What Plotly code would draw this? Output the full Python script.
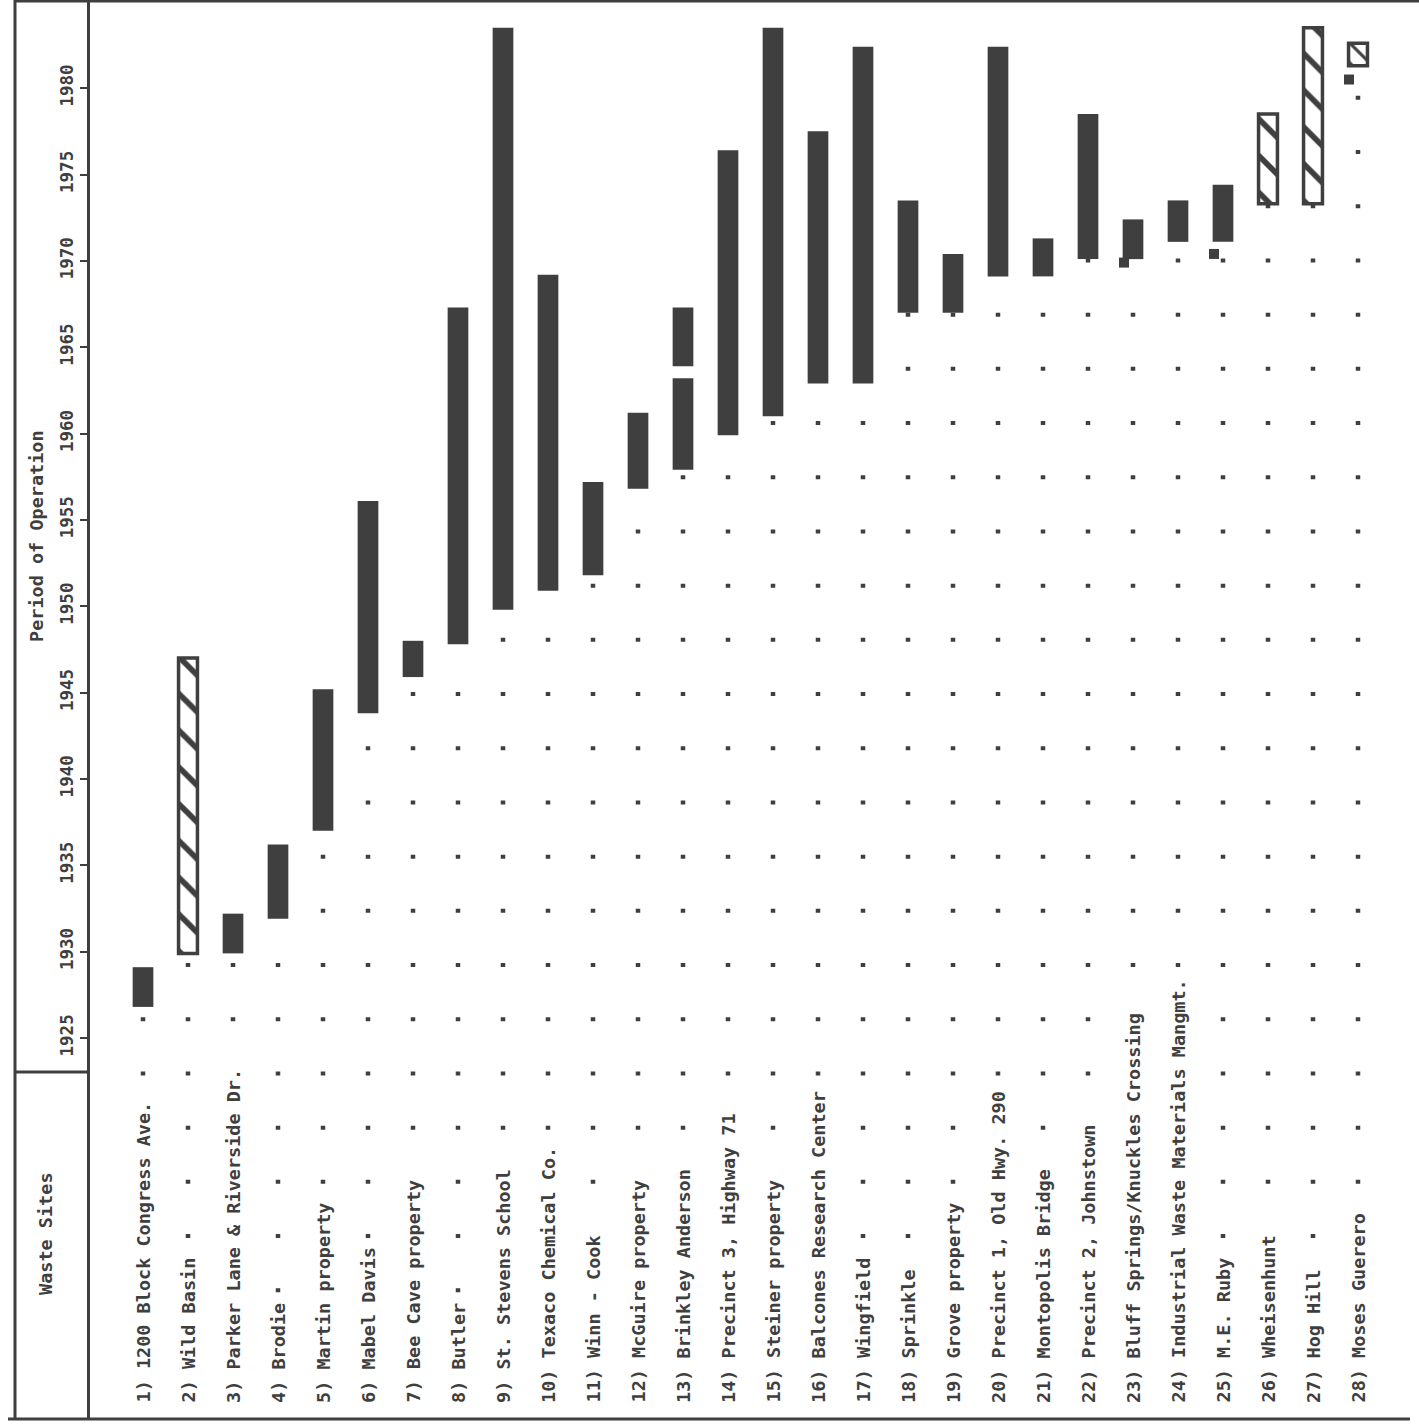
import plotly.graph_objects as go

# waste sites, numbered as on the chart
sites = [
    "1200 Block Congress Ave.", "Wild Basin", "Parker Lane & Riverside Dr.",
    "Brodie", "Martin property", "Mabel Davis", "Bee Cave property", "Butler",
    "St. Stevens School", "Texaco Chemical Co.", "Winn - Cook",
    "McGuire property", "Brinkley Anderson", "Precinct 3, Highway 71",
    "Steiner property", "Balcones Research Center", "Wingfield", "Sprinkle",
    "Grove property", "Precinct 1, Old Hwy. 290", "Montopolis Bridge",
    "Precinct 2, Johnstown", "Bluff Springs/Knuckles Crossing",
    "Industrial Waste Materials Mangmt.", "M.E. Ruby", "Wheisenhunt",
    "Hog Hill", "Moses Guerero",
]

# periods of operation (one entry per bar, site 13 has two)
bar_site = [1, 2, 3, 4, 5, 6, 7, 8, 9, 10, 11, 12, 13, 13, 14, 15, 16, 17,
            18, 19, 20, 21, 22, 23, 24, 25, 26, 27, 28]
bar_start = [1926.8, 1929.9, 1929.9, 1931.9, 1937.0, 1943.8, 1945.9, 1947.8,
             1949.8, 1950.9, 1951.8, 1956.8, 1957.9, 1963.9, 1959.9, 1961.0,
             1962.9, 1962.9, 1967.0, 1967.0, 1969.1, 1969.1, 1970.1, 1970.1,
             1971.1, 1971.1, 1973.3, 1973.3, 1981.3]
bar_end = [1929.1, 1947.0, 1932.2, 1936.2, 1945.2, 1956.1, 1948.0, 1967.3,
           1983.5, 1969.2, 1957.2, 1961.2, 1963.2, 1967.3, 1976.4, 1983.5,
           1977.5, 1982.4, 1973.5, 1970.4, 1982.4, 1971.3, 1978.5, 1972.4,
           1973.5, 1974.4, 1978.5, 1983.5, 1982.6]
bar_hatched = [False, True, False, False, False, False, False, False, False,
               False, False, False, False, False, False, False, False, False,
               False, False, False, False, False, False, False, False, True,
               True, True]

# small single marks beside some bars
mark_site = [23, 25, 28]
mark_year = [1969.9, 1970.4, 1980.5]

year_ticks = [1925, 1930, 1935, 1940, 1945, 1950, 1955, 1960, 1965, 1970,
              1975, 1980]

W, H = 1419, 1425
INK = "#3f3f3f"
MONO = "DejaVu Sans Mono"
LEAD_FROM = 1904.0


def fx(p):
    return p / W


def fy(p):
    return 1 - p / H


fig = go.Figure()

# dotted leaders from the site name up to the first period
for i in range(1, len(sites) + 1):
    firsts = [s for s, k in zip(bar_start, bar_site) if k == i]
    firsts += [y for y, k in zip(mark_year, mark_site) if k == i]
    fig.add_trace(go.Scatter(
        x=[i, i], y=[LEAD_FROM, min(firsts)], mode="lines",
        line=dict(color=INK, width=4.5, dash="4px,50.2px"),
        hoverinfo="skip", showlegend=False))

solid = [j for j, h in enumerate(bar_hatched) if not h]
hatch = [j for j, h in enumerate(bar_hatched) if h]

fig.add_trace(go.Bar(
    x=[bar_site[j] for j in solid],
    base=[bar_start[j] for j in solid],
    y=[bar_end[j] - bar_start[j] for j in solid],
    width=0.46, marker=dict(color=INK, line=dict(width=0)),
    showlegend=False))

# short hatched boxes need a tighter hatch to show any stroke
hatch_size = [26 if bar_end[j] - bar_start[j] > 3 else 14 for j in hatch]

fig.add_trace(go.Bar(
    x=[bar_site[j] for j in hatch],
    base=[bar_start[j] for j in hatch],
    y=[bar_end[j] - bar_start[j] for j in hatch],
    width=0.42,
    marker=dict(color="white", line=dict(color=INK, width=3.5),
                pattern=dict(shape="\\", fgcolor=INK, bgcolor="white",
                             size=hatch_size, solidity=0.22,
                             fillmode="replace")),
    showlegend=False))

fig.add_trace(go.Scatter(
    x=[s - 0.2 for s in mark_site], y=mark_year, mode="markers",
    marker=dict(symbol="square", size=10, color=INK),
    showlegend=False))

# site names, rotated and reading upward
for i, name in enumerate(sites, start=1):
    fig.add_annotation(
        x=i, xref="x", y=fy(1406), yref="paper", yanchor="bottom",
        xanchor="center", textangle=-90, showarrow=False,
        text=f"{i}) {name}", bgcolor="white", borderpad=2,
        font=dict(family=MONO, size=18.5, color=INK, weight="bold"))

fig.add_annotation(
    x=fx(36), xref="paper", y=fy(536), yref="paper", textangle=-90,
    xanchor="center", yanchor="middle", showarrow=False,
    text="Period of Operation",
    font=dict(family=MONO, size=18.5, color=INK, weight="bold"))
fig.add_annotation(
    x=fx(45), xref="paper", y=fy(1234), yref="paper", textangle=-90,
    xanchor="center", yanchor="middle", showarrow=False,
    text="Waste Sites",
    font=dict(family=MONO, size=18.5, color=INK, weight="bold"))

# frame lines
line = dict(color=INK, width=3)
fig.add_shape(type="line", xref="paper", yref="paper",
              x0=fx(15), x1=fx(15), y0=fy(0), y1=fy(1419), line=line)
fig.add_shape(type="line", xref="paper", yref="paper",
              x0=fx(15), x1=fx(88), y0=fy(1072), y1=fy(1072), line=line)
fig.add_shape(type="line", xref="paper", yref="paper",
              x0=fx(15), x1=fx(W), y0=fy(1), y1=fy(1), line=line)
fig.add_shape(type="line", xref="paper", yref="paper",
              x0=fx(8), x1=fx(1410), y0=fy(1419), y1=fy(1419), line=line)

# year axis: 1925 at y=1038px, 17.27 px per year
px_per_year = 17.27
y_top = 1925 + 1038 / px_per_year
y_bot = 1925 - (1420 - 1038) / px_per_year
x_lo = 1 - 143 / 45.0
x_hi = x_lo + W / 45.0

fig.update_layout(
    width=W, height=H, margin=dict(l=0, r=0, t=0, b=0),
    paper_bgcolor="white", plot_bgcolor="white", barmode="overlay",
    xaxis=dict(range=[x_lo, x_hi], visible=False, domain=[0, 1]),
    yaxis=dict(range=[y_bot, y_top], domain=[5 / H, 1], anchor="free",
               position=fx(88), side="left", showgrid=False, zeroline=False,
               showline=True, linecolor=INK, linewidth=3,
               ticks="outside", ticklen=7, tickwidth=2, tickcolor=INK,
               tickmode="array", tickvals=year_ticks,
               ticktext=[str(t) for t in year_ticks], tickangle=-90,
               tickfont=dict(family=MONO, size=17.5, color=INK,
                             weight="bold")),
)

# the page body margin would shift the chart; drop it
fig.write_html("out.html", config={"displayModeBar": False},
               post_script="document.body.style.margin='0';")
